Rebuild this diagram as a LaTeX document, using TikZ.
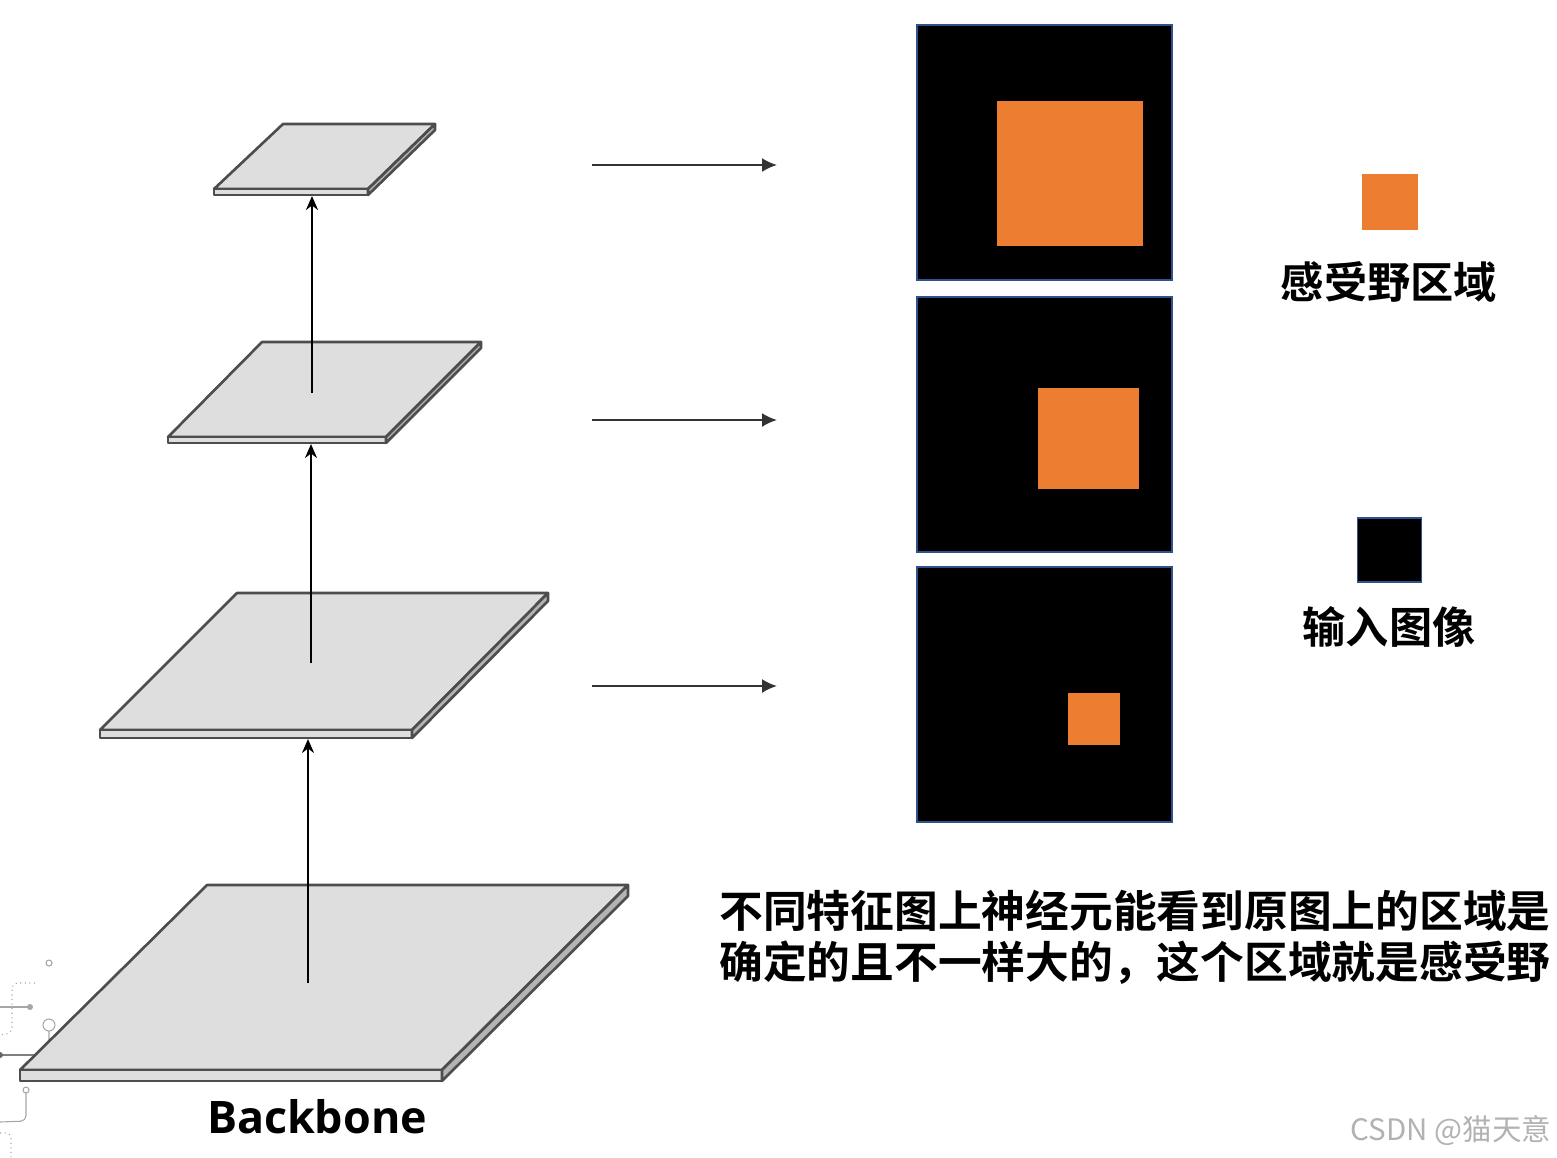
\documentclass[tikz,border=0pt]{standalone}
\usepackage{fontspec}
\setmainfont{Open Sans}
\newfontfamily\cjk[BoldFont={Noto Sans CJK SC Bold}]{Noto Sans CJK SC}
\usetikzlibrary{arrows.meta}
\definecolor{rfOrange}{HTML}{ED7D31}
\definecolor{imgEdge}{HTML}{2F528F}
\definecolor{plateTop}{HTML}{DEDEDE}
\definecolor{plateSide}{HTML}{B4B4B4}
\definecolor{plateEdge}{HTML}{4D4D4D}

\begin{document}
\begin{tikzpicture}[x=0.02cm,y=-0.02cm]
\tikzset{
    fmPlate/.style={fill=plateTop,draw=plateEdge,line width=1.5pt,line join=round},
    fmSide/.style={fill=plateSide,draw=plateEdge,line width=1.5pt,line join=round},
    fmImg/.style={rectangle,fill=black,draw=imgEdge,line width=0.8pt,minimum size=5.1cm,inner sep=0pt},
    fmRf/.style={rectangle,fill=rfOrange,inner sep=0pt},
    fmUp/.style={-{Stealth[length=0.28cm,width=0.24cm]},line width=1.3pt},
    fmMap/.style={-{Latex[length=0.3cm,width=0.28cm]},line width=1.2pt,draw=black!80},
    fmDeco/.style={draw=black!35,line width=0.6pt},
    fmCjk/.style={font=\cjk\bfseries\fontsize{24.6}{28}\selectfont},
}
\useasboundingbox (0,0) rectangle (1557,1157);

% faint circuit lines behind the backbone
\draw[fmDeco,dotted,rounded corners=3pt] (35,983) -- (12,983) -- (12,1033) -- (0,1035);
\draw[fmDeco] (0,1007) -- (30,1007);
\fill[black!35] (30,1007) circle (3);
\draw[fmDeco] (49,963) circle (3);
\draw[fmDeco] (49,1025) circle (6) (49,1031) -- (49,1041);
\draw[fmDeco,draw=black!50] (0,1055) -- (34,1055);
\fill[black!60] (0,1055) circle (3);
\draw[fmDeco] (26,1090) circle (3);
\draw[fmDeco,rounded corners=3pt] (26,1093) -- (26,1121) -- (0,1122);
\draw[fmDeco,dotted,rounded corners=3pt] (0,1133) -- (11,1133) -- (11,1157);

% feature maps, bottom to top
\foreach \tl/\tr/\yt/\bl/\br/\yb/\yc in {207/628/885/20/442/1070/1081,
        237/548/593/100/412/730/738, 262/481/342/168/386/437/443,
        283/435/124/214/368/189/195}
{
  \filldraw[fmPlate] (\tl,\yt) -- (\tr,\yt) -- (\br,\yb) -- (\bl,\yb) -- cycle;
  \filldraw[fmPlate] (\bl,\yb) rectangle (\br,\yc);
  \filldraw[fmSide] (\br,\yb) -- (\tr,\yt) -- (\tr,{\yt+\yc-\yb}) -- (\br,\yc) -- cycle;
}

\node[font=\bfseries\fontsize{25.5}{30}\selectfont] (bb) at (317,1117) {Backbone};

\coordinate (p1) at (308,983);
\coordinate (p2b) at (308,739);
\coordinate (p2) at (311,663);
\coordinate (p3b) at (311,444);
\coordinate (p3) at (312,393);
\coordinate (p4b) at (312,196);
\draw[fmUp] (p1) -- (p2b);
\draw[fmUp] (p2) -- (p3b);
\draw[fmUp] (p3) -- (p4b);

% input images with their receptive fields
\node[fmImg] (img1) at (1044.5,152.5) {};
\node[fmImg] (img2) at (1044.5,424.5) {};
\node[fmImg] (img3) at (1044.5,694.5) {};
\node[fmRf,minimum size=2.92cm] (rf1) at (1070,173.5) {};
\node[fmRf,minimum size=2.02cm] (rf2) at (1088.5,438) {};
\node[fmRf,minimum size=1.04cm] (rf3) at (1094,718.5) {};

\coordinate (m1s) at (592,165);
\coordinate (m1e) at (777,165);
\coordinate (m2s) at (592,420);
\coordinate (m2e) at (777,420);
\coordinate (m3s) at (592,686);
\coordinate (m3e) at (777,686);
\draw[fmMap] (m1s) -- (m1e);
\draw[fmMap] (m2s) -- (m2e);
\draw[fmMap] (m3s) -- (m3e);

% legend
\node[fmRf,minimum size=1.12cm] (lgRf) at (1390,201.5) {};
\node[fmCjk] (lgRfTxt) at (1389,282) {感受野区域};
\node[fmImg,minimum size=1.28cm] (lgImg) at (1389.5,550) {};
\node[fmCjk] (lgImgTxt) at (1389,627) {输入图像};

\node[align=left,font=\cjk\bfseries\fontsize{24.9}{28.9}\selectfont] (note) at (1135,937)
  {不同特征图上神经元能看到原图上的区域是\\确定的且不一样大的，这个区域就是感受野};

\node[text=black!30,font=\cjk\fontsize{16.8}{17}\selectfont] (wm) at (1451,1130) {CSDN @猫天意};
\end{tikzpicture}
\end{document}
